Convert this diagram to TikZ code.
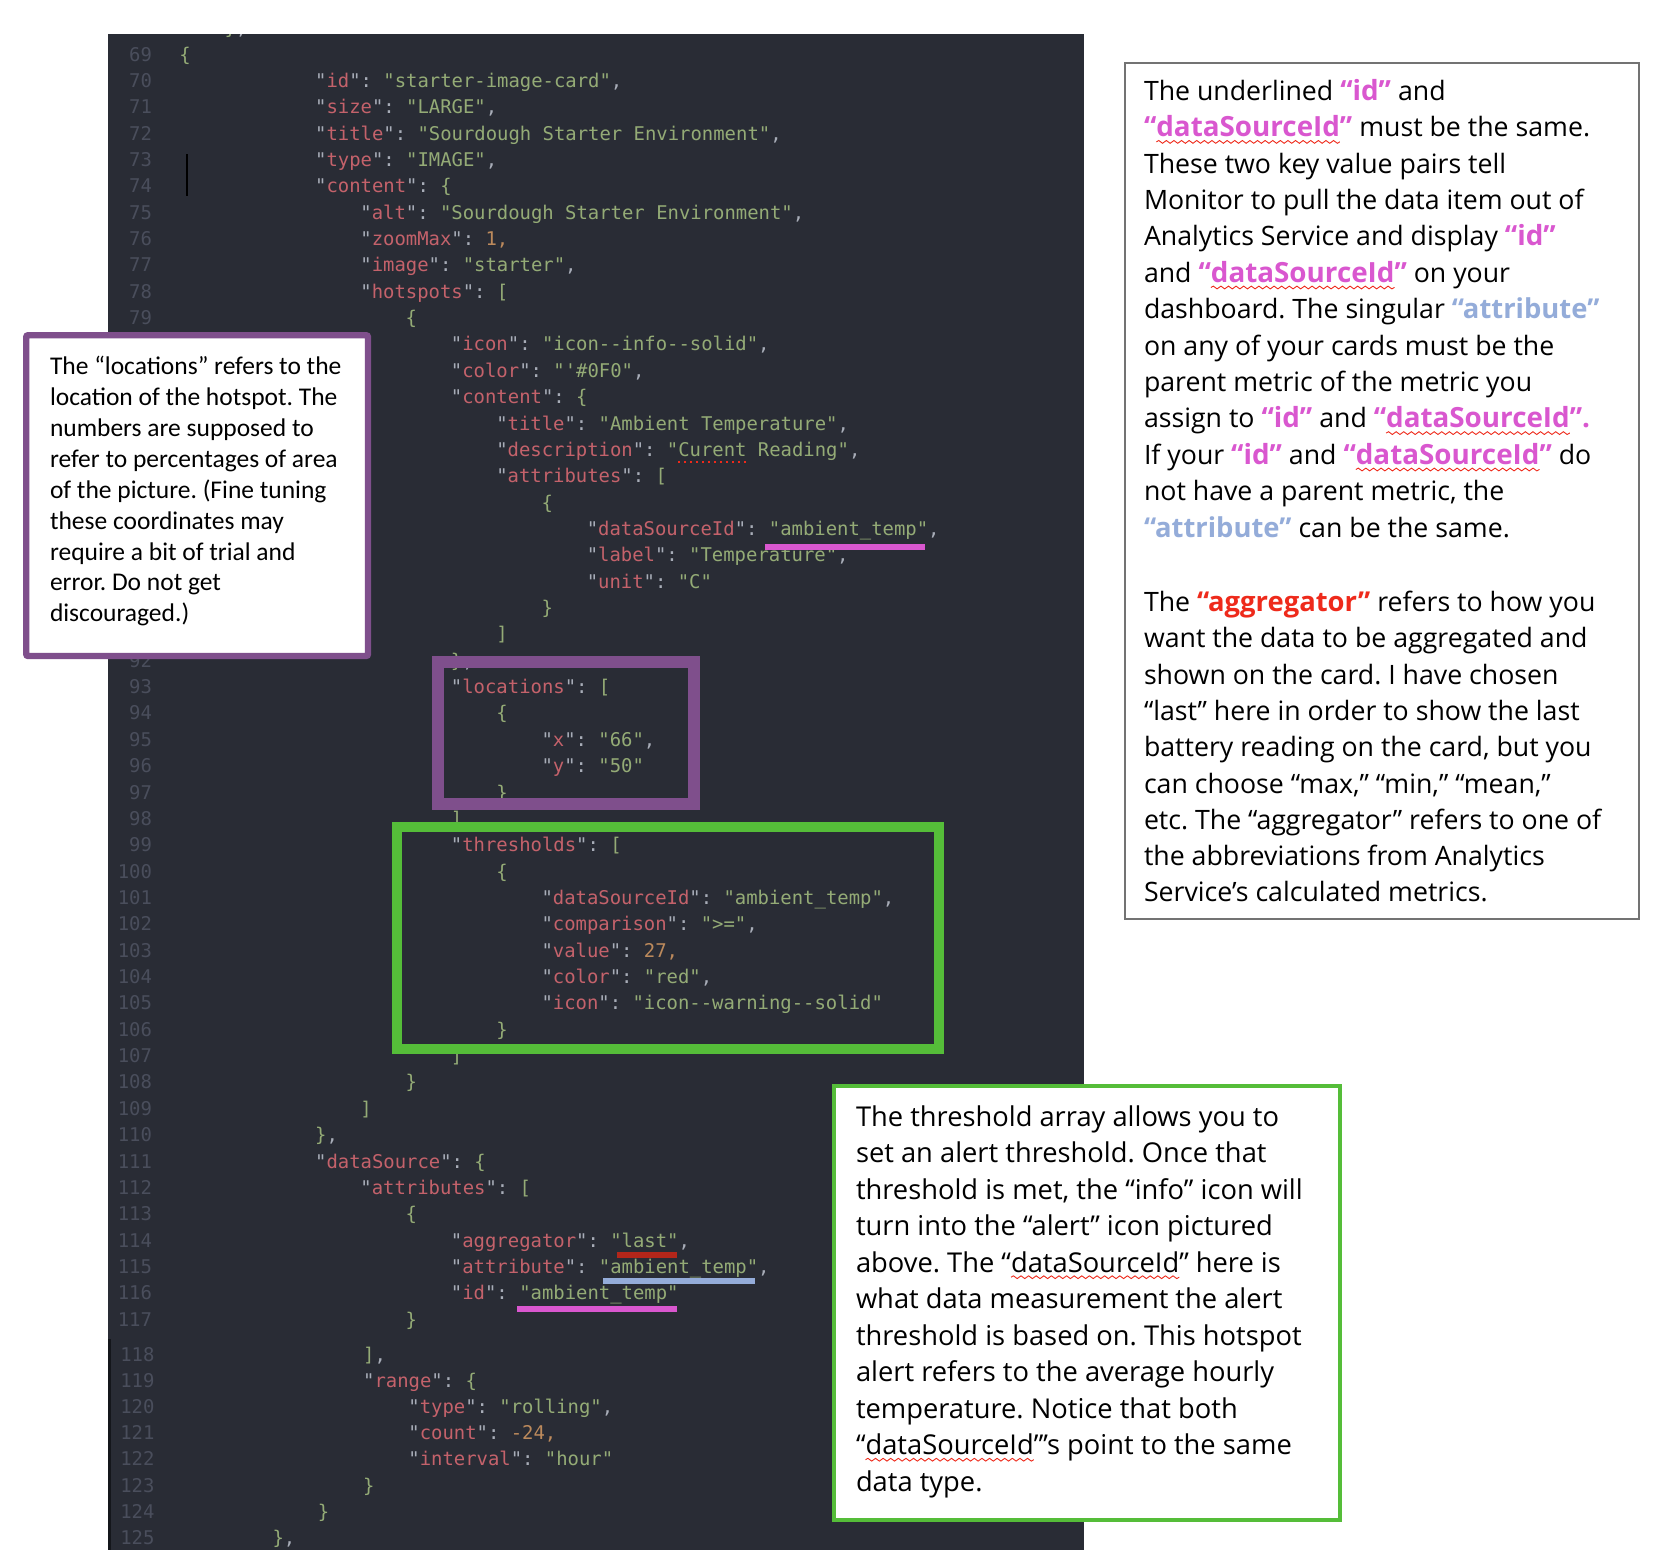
\documentclass[tikz,border=0pt]{standalone}
\usepackage{fontspec}
\usetikzlibrary{decorations.pathmorphing}
\setmainfont{Open Sans}
\newfontfamily\codefont{DejaVu Sans Mono}
\newfontfamily\calibfont{Carlito}
\frenchspacing
\definecolor{panelbg}{HTML}{292C35}
\definecolor{ckey}{HTML}{C4626B}
\definecolor{cstr}{HTML}{94AB76}
\definecolor{cnum}{HTML}{BC8A5C}
\definecolor{cpun}{HTML}{A8ADB8}
\definecolor{cnumline}{HTML}{4A4E5C}
\definecolor{magen}{HTML}{D957CF}
\definecolor{blueu}{HTML}{94ACD9}
\definecolor{redu}{HTML}{B3261A}
\definecolor{redt}{HTML}{EE2A1B}
\definecolor{purp}{HTML}{7F4F8C}
\definecolor{greenb}{HTML}{55BD39}
\newcommand\KeyT[1]{{\color{cpun}"}{\color{ckey}#1}{\color{cpun}": }}
\newcommand\Sv[1]{{\color{cstr}"#1"}}
\newcommand\Cm{{\color{cpun},}}
\newcommand\Nm[1]{{\color{cnum}#1}}
\newcommand\Br[1]{{\color{cstr}#1}}
\newcommand\Us{\char"5F\relax}
\newcommand\tmg[1]{{\fontsize{13.9}{16}\selectfont\bfseries\color{magen}#1}}
\newcommand\tbl[1]{{\fontsize{13.7}{16}\selectfont\bfseries\color{blueu}#1}}
\newcommand\trd[1]{{\fontsize{13.7}{16}\selectfont\bfseries\color{redt}#1}}
\newcommand\codeln[3]{\node[codetext] (c#1) at ({179.3+#2*11.32},{61+(#1-69)*26.358}) {#3};}
\newcommand\codelnb[3]{\node[codetext] (c#1) at ({182+#2*11.32},{1361+(#1-118)*26.2}) {#3};}
\newcommand\lnm[1]{\node[lnum] (n#1) at (152,{61+(#1-69)*26.358}) {#1};}
\newcommand\lnmb[1]{\node[lnum] (n#1) at (154.5,{1361+(#1-118)*26.2}) {#1};}
\newcommand\rline[3]{\node[plex] (#1) at (1144,{#2}) {#3};}
\newcommand\gline[3]{\node[plexg] (#1) at (856,{#2}) {#3};}
\newcommand\pline[3]{\node[calib] (#1) at (50,{#2}) {#3};}
\tikzset{
 codetext/.style={anchor=base west,inner sep=0pt,outer sep=0pt,font=\codefont\fontsize{9.45}{11}\selectfont},
 lnum/.style={anchor=base east,inner sep=0pt,outer sep=0pt,text=cnumline,font=\codefont\fontsize{9.45}{11}\selectfont},
 plex/.style={anchor=base west,inner sep=0pt,outer sep=0pt,font=\fontsize{13.35}{16}\selectfont},
 plexg/.style={anchor=base west,inner sep=0pt,outer sep=0pt,font=\fontsize{13.65}{16}\selectfont},
 calib/.style={anchor=base west,inner sep=0pt,outer sep=0pt,font=\calibfont\fontsize{12.75}{15}\selectfont},
 squig/.style={draw=redt,line width=0.45pt,decorate,decoration={snake,segment length=3.8pt,amplitude=0.7pt}},
}
\begin{document}
\begin{tikzpicture}[x=0.5pt,y=-0.5pt]
\useasboundingbox (0,0) rectangle (1656,1564);
\fill[panelbg] (108,34) rectangle (1083.5,1550);
\fill[black!50!panelbg] (108,1339) rectangle (110.5,1550);
\begin{scope}
\clip (108,34) rectangle (1083.5,1550);
\node[codetext] (c68) at ({179.3+4*11.32},{61-26.358}) {\Br{\}}\Cm};
\codeln{69}{0}{\Br{\{}}
\codeln{70}{12}{\KeyT{id}\Sv{starter-image-card}\Cm}
\codeln{71}{12}{\KeyT{size}\Sv{LARGE}\Cm}
\codeln{72}{12}{\KeyT{title}\Sv{Sourdough Starter Environment}\Cm}
\codeln{73}{12}{\KeyT{type}\Sv{IMAGE}\Cm}
\codeln{74}{12}{\KeyT{content}\Br{\{}}
\codeln{75}{16}{\KeyT{alt}\Sv{Sourdough Starter Environment}\Cm}
\codeln{76}{16}{\KeyT{zoomMax}\Nm{1,}}
\codeln{77}{16}{\KeyT{image}\Sv{starter}\Cm}
\codeln{78}{16}{\KeyT{hotspots}\Br{[}}
\codeln{79}{20}{\Br{\{}}
\codeln{80}{24}{\KeyT{icon}\Sv{icon--info--solid}\Cm}
\codeln{81}{24}{\KeyT{color}\Sv{'\#0F0}\Cm}
\codeln{82}{24}{\KeyT{content}\Br{\{}}
\codeln{83}{28}{\KeyT{title}\Sv{Ambient Temperature}\Cm}
\codeln{84}{28}{\KeyT{description}{\color{cstr}"}}
\node[codetext,text=cstr] (cur) at (c84.base east) {Curent};
\node[codetext] (curb) at (cur.base east) {\ {\color{cstr}Reading"}\Cm};
\codeln{85}{28}{\KeyT{attributes}\Br{[}}
\codeln{86}{32}{\Br{\{}}
\codeln{87}{36}{\KeyT{dataSourceId}\Sv{ambient\Us temp}\Cm}
\codeln{88}{36}{\KeyT{label}\Sv{Temperature}\Cm}
\codeln{89}{36}{\KeyT{unit}\Sv{C}}
\codeln{90}{32}{\Br{\}}}
\codeln{91}{28}{\Br{]}}
\codeln{92}{24}{\Br{\}}\Cm}
\codeln{93}{24}{\KeyT{locations}\Br{[}}
\codeln{94}{28}{\Br{\{}}
\codeln{95}{32}{\KeyT{x}\Sv{66}\Cm}
\codeln{96}{32}{\KeyT{y}\Sv{50}}
\codeln{97}{28}{\Br{\}}}
\codeln{98}{24}{\Br{]}\Cm}
\codeln{99}{24}{\KeyT{thresholds}\Br{[}}
\codeln{100}{28}{\Br{\{}}
\codeln{101}{32}{\KeyT{dataSourceId}\Sv{ambient\Us temp}\Cm}
\codeln{102}{32}{\KeyT{comparison}\Sv{>=}\Cm}
\codeln{103}{32}{\KeyT{value}\Nm{27,}}
\codeln{104}{32}{\KeyT{color}\Sv{red}\Cm}
\codeln{105}{32}{\KeyT{icon}\Sv{icon--warning--solid}}
\codeln{106}{28}{\Br{\}}}
\codeln{107}{24}{\Br{]}}
\codeln{108}{20}{\Br{\}}}
\codeln{109}{16}{\Br{]}}
\codeln{110}{12}{\Br{\}}\Cm}
\codeln{111}{12}{\KeyT{dataSource}\Br{\{}}
\codeln{112}{16}{\KeyT{attributes}\Br{[}}
\codeln{113}{20}{\Br{\{}}
\codeln{114}{24}{\KeyT{aggregator}\Sv{last}\Cm}
\codeln{115}{24}{\KeyT{attribute}\Sv{ambient\Us temp}\Cm}
\codeln{116}{24}{\KeyT{id}\Sv{ambient\Us temp}}
\codeln{117}{20}{\Br{\}}}
\codelnb{118}{16}{\Br{]}\Cm}
\codelnb{119}{16}{\KeyT{range}\Br{\{}}
\codelnb{120}{20}{\KeyT{type}\Sv{rolling}\Cm}
\codelnb{121}{20}{\KeyT{count}\Nm{-24,}}
\codelnb{122}{20}{\KeyT{interval}\Sv{hour}}
\codelnb{123}{16}{\Br{\}}}
\codelnb{124}{12}{\Br{\}}}
\codelnb{125}{8}{\Br{\}}\Cm}
\foreach \n in {69,...,79,92,93,...,117} {\lnm{\n}}
\foreach \n in {118,...,125} {\lnmb{\n}}
\end{scope}
% cursor and spell mark
\draw[black,line width=1pt] (186.6,154) -- (186.6,196);
\draw[redt,line width=1pt,dotted] ([yshift=-3pt]cur.base west) -- ([yshift=-3pt]cur.base east);
% underlines
\fill[magen] (765,544) rectangle (925,550);
\fill[redu] (617,1252) rectangle (677,1258);
\fill[blueu] (603,1278) rectangle (755,1284);
\fill[magen] (517,1306) rectangle (677,1312);
% frames on the code
\draw[purp,line width=6pt] (438,662) rectangle (694,803.5);
\draw[greenb,line width=5pt] (397,827) rectangle (939,1049);
% left callout
\draw[purp,fill=white,line width=3.2pt,rounded corners=1pt] (26.2,335.2) rectangle (368,656);
\pline{p1}{374.5}{The “locations” refers to the}
\pline{p2}{405.5}{location of the hotspot. The}
\pline{p3}{436.5}{numbers are supposed to}
\pline{p4}{467.5}{refer to percentages of area}
\pline{p5}{498.5}{of the picture. (Fine tuning}
\pline{p6}{529}{these coordinates may}
\pline{p7}{560}{require a bit of trial and}
\pline{p8}{590.5}{error. Do not get}
\pline{p9}{621.5}{discouraged.)}
% right box
\draw[black!55,line width=0.75pt] (1125,63) rectangle (1639,919);
\rline{r1}{100.3}{The underlined \tmg{“id”} and}
\rline{r2}{136.7}{\tmg{“}}
\node[plex] (r2b) at (r2.base east) {\tmg{dataSourceId}};
\node[plex] (r2c) at (r2b.base east) {\tmg{”}\ must be the same.};
\rline{r3}{173.1}{These two key value pairs tell}
\rline{r4}{209.5}{Monitor to pull the data item out of}
\rline{r5}{245.9}{Analytics Service and display \tmg{“id”}}
\rline{r6}{282.3}{and\ \tmg{“}}
\node[plex] (r6b) at (r6.base east) {\tmg{dataSourceId}};
\node[plex] (r6c) at (r6b.base east) {\tmg{”}\ on your};
\rline{r7}{318.7}{dashboard. The singular \tbl{“attribute”}}
\rline{r8}{355.1}{on any of your cards must be the}
\rline{r9}{391.5}{parent metric of the metric you}
\rline{r10}{427.9}{assign to \tmg{“id”} and\ \tmg{“}}
\node[plex] (r10b) at (r10.base east) {\tmg{dataSourceId}};
\node[plex] (r10c) at (r10b.base east) {\tmg{”.}};
\rline{r11}{464.3}{If your \tmg{“id”} and\ \tmg{“}}
\node[plex] (r11b) at (r11.base east) {\tmg{dataSourceId}};
\node[plex] (r11c) at (r11b.base east) {\tmg{”}\ do};
\rline{r12}{500.7}{not have a parent metric, the}
\rline{r13}{537.3}{\tbl{“attribute”} can be the same.}
\rline{r14}{611.4}{The \trd{“aggregator”} refers to how you}
\rline{r15}{647.7}{want the data to be aggregated and}
\rline{r16}{684}{shown on the card. I have chosen}
\rline{r17}{720.4}{“last” here in order to show the last}
\rline{r18}{756.7}{battery reading on the card, but you}
\rline{r19}{793}{can choose “max,” “min,” “mean,”}
\rline{r20}{829.2}{etc. The “aggregator” refers to one of}
\rline{r21}{865.5}{the abbreviations from Analytics}
\rline{r22}{901.8}{Service’s calculated metrics.}
% green callout
\draw[greenb,fill=white,line width=2pt] (834,1085.5) rectangle (1339.5,1519.5);
\gline{g1}{1126}{The threshold array allows you to}
\gline{g2}{1162.5}{set an alert threshold. Once that}
\gline{g3}{1199}{threshold is met, the “info” icon will}
\gline{g4}{1235.5}{turn into the “alert” icon pictured}
\gline{g5}{1272}{above. The “}
\node[plexg] (g5b) at (g5.base east) {dataSourceId};
\node[plexg] (g5c) at (g5b.base east) {”\ here is};
\gline{g6}{1308.5}{what data measurement the alert}
\gline{g7}{1345}{threshold is based on. This hotspot}
\gline{g8}{1381.5}{alert refers to the average hourly}
\gline{g9}{1418}{temperature. Notice that both}
\gline{g10}{1454.5}{“}
\node[plexg] (g10b) at (g10.base east) {dataSourceId};
\node[plexg] (g10c) at (g10b.base east) {”’s point to the same};
\gline{g11}{1491}{data type.}
% spell-check squiggles
\foreach \w in {r2b,r6b,r10b,r11b,g5b,g10b}
  \draw[squig] ([yshift=-2.6pt]\w.base west) -- ([yshift=-2.6pt]\w.base east);
\end{tikzpicture}
\end{document}
